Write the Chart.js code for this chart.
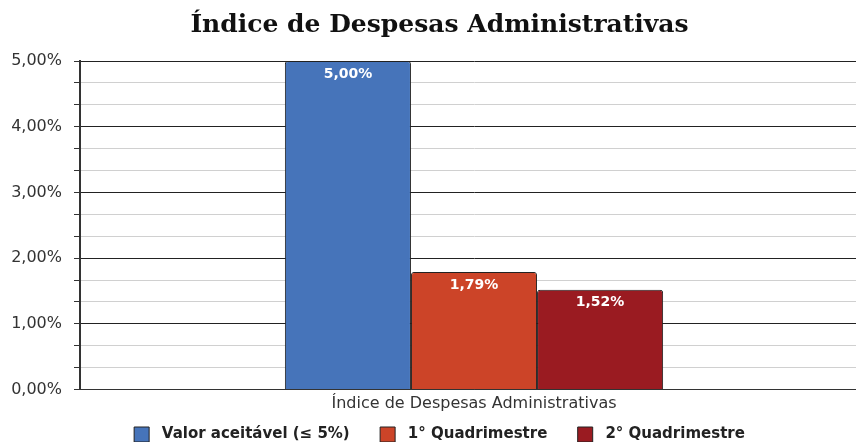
<!DOCTYPE html>
<html>
<head>
<meta charset="utf-8">
<script src="https://cdn.jsdelivr.net/npm/chart.js@4.4.0/dist/chart.umd.min.js"></script>
<style>
  html, body { margin: 0; padding: 0; background: #fff; overflow: hidden; }
  #wrap { width: 876px; height: 452px; }
</style>
</head>
<body>
<div id="wrap"><canvas id="chart"></canvas></div>
<script>
var categories = ["Índice de Despesas Administrativas"];
var seriesNames = ["Valor aceitável (≤ 5%)", "1° Quadrimestre", "2° Quadrimestre"];
var seriesValues = [[5.00], [1.79], [1.52]];
var seriesColors = ["#4674BA", "#CC4428", "#9A1B21"];

var sans = "'DejaVu Sans', Verdana, sans-serif";

function fmt(v) {
    return v.toFixed(2).replace(".", ",") + "%";
}

// labels inside the top of each bar
var barLabels = {
    id: 'barLabels',
    afterDatasetsDraw: function(chart) {
        var ctx = chart.ctx;
        ctx.save();
        ctx.font = "bold 14px " + sans;
        ctx.fillStyle = "#fff";
        ctx.textAlign = "center";
        ctx.textBaseline = "top";
        chart.data.datasets.forEach(function(ds, i) {
            chart.getDatasetMeta(i).data.forEach(function(bar, j) {
                ctx.fillText(fmt(ds.data[j]), bar.x, bar.y + 6);
            });
        });
        ctx.restore();
    }
};

window.onload = function() {
    var ctx = document.getElementById("chart").getContext("2d");
    new Chart(ctx, {
        type: 'bar',
        data: {
            labels: categories,
            datasets: seriesNames.map(function(name, i) {
                return {
                    label: name,
                    data: seriesValues[i],
                    backgroundColor: seriesColors[i],
                    borderColor: "#222",
                    borderWidth: 1,
                    borderRadius: 3,
                    borderSkipped: 'bottom',
                    barPercentage: 1,
                    categoryPercentage: 0.48
                };
            })
        },
        options: {
            responsive: true,
            maintainAspectRatio: false,
            animation: false,
            layout: { padding: { left: 11, right: 8, top: 0, bottom: 0 } },
            plugins: {
                title: {
                    display: true,
                    text: 'Índice de Despesas Administrativas',
                    color: '#111',
                    font: { family: "'DejaVu Serif', 'Liberation Serif', serif", size: 25, weight: 'bold' },
                    padding: { top: 10, bottom: 21 }
                },
                legend: {
                    position: 'bottom',
                    labels: {
                        boxWidth: 15,
                        boxHeight: 15,
                        padding: 9.5,
                        color: '#222',
                        font: { family: sans, size: 15, weight: 'bold' },
                        generateLabels: function(chart) {
                            var items = Chart.defaults.plugins.legend.labels.generateLabels(chart);
                            items.forEach(function(it, i) {
                                it.text = ' ' + it.text + (i < items.length - 1 ? '    ' : '');
                            });
                            return items;
                        }
                    }
                },
                tooltip: { enabled: false }
            },
            scales: {
                x: {
                    grid: { display: false, drawTicks: false },
                    border: { color: '#333', width: 1 },
                    ticks: {
                        color: '#333',
                        font: { family: sans, size: 16, lineHeight: 1 },
                        padding: 6
                    }
                },
                y: {
                    min: 0,
                    max: 5,
                    afterBuildTicks: function(axis) {
                        var t = [];
                        for (var i = 0; i <= 15; i++) t.push({ value: i / 3 });
                        axis.ticks = t;
                    },
                    afterFit: function(axis) {
                        axis.width = 69;
                    },
                    border: { color: '#333', width: 2 },
                    grid: {
                        color: function(c) {
                            return (c.index % 3 === 0) ? '#222' : '#d0d0d0';
                        },
                        tickColor: '#333',
                        tickLength: 6
                    },
                    ticks: {
                        autoSkip: false,
                        color: '#333',
                        font: { family: sans, size: 16 },
                        padding: 12,
                        callback: function(v, i) {
                            return (i % 3 === 0) ? fmt(i / 3) : '';
                        }
                    }
                }
            }
        },
        plugins: [barLabels]
    });
};
</script>
</body>
</html>
